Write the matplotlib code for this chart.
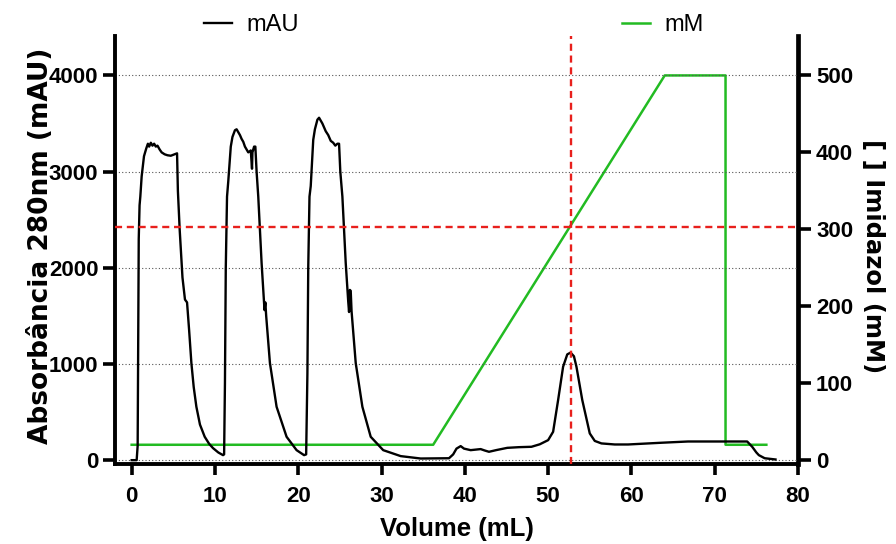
import matplotlib
matplotlib.use("Agg")
import matplotlib.pyplot as plt
from matplotlib.lines import Line2D

plt.rcParams["font.family"] = ["Liberation Sans", "DejaVu Sans"]

# ── absorbance trace (mL, mAU) ──
volume = [0.0, 0.6, 0.72, 0.78, 0.85, 0.95, 1.04, 1.2, 1.48, 1.75, 1.95, 2.1, 2.3, 2.5, 2.7,
          2.9, 3.1, 3.36, 3.6, 3.96, 4.3, 4.7, 5.0, 5.3, 5.45, 5.55, 5.77, 6.1, 6.4, 6.65,
          6.9, 7.17, 7.45, 7.77, 8.2, 8.77, 9.3, 9.77, 10.4, 10.97, 11.1,
          11.2, 11.3, 11.45, 11.6, 11.9, 12.1, 12.4, 12.6, 12.8, 13.0, 13.2, 13.4, 13.6,
          13.8, 14.0, 14.3, 14.45, 14.5, 14.7, 14.85, 15.0, 15.2, 15.6, 15.95, 16.05,
          16.15, 16.6, 17.4, 18.6, 19.8, 20.7, 20.95,
          21.1, 21.2, 21.35, 21.5, 21.8, 22.0, 22.3, 22.5, 22.7, 22.9, 23.1, 23.3, 23.6,
          23.9, 24.2, 24.45, 24.7, 24.9, 25.05, 25.3, 25.7, 26.0, 26.1, 26.2, 26.3, 26.4,
          26.9, 27.7, 28.7, 30.2, 32.3, 34.7, 38.1,
          38.6, 39.0, 39.5, 39.9, 40.7, 41.3, 41.9, 42.4, 42.9, 43.8, 45.1, 46.5, 48.0,
          49.0, 50.0, 50.6, 51.2, 51.8, 52.3, 52.7, 53.1, 53.4, 54.1, 55.0, 55.6, 56.4,
          58.0, 59.6, 61.5, 63.6, 66.8, 70.0, 73.9, 74.5, 75.0, 75.3, 76.0, 77.3]
mau = [0, 0, 150, 1200, 2300, 2650, 2740, 2950, 3160, 3240, 3290, 3260, 3300, 3270, 3290,
       3260, 3270, 3230, 3200, 3180, 3170, 3165, 3175, 3185, 3190, 2800, 2390, 1900, 1670, 1640,
       1350, 1010, 760, 555, 370, 243, 170, 125, 80, 52, 60,
       800, 2000, 2740, 2900, 3260, 3360, 3430, 3440, 3410, 3380, 3340, 3310, 3260,
       3230, 3200, 3220, 3030, 3200, 3260, 3260, 3000, 2740, 2050, 1560, 1640,
       1500, 1010, 555, 243, 104, 52, 60,
       900, 2000, 2740, 2850, 3330, 3440, 3540, 3560, 3530, 3500, 3460, 3420, 3380,
       3320, 3300, 3270, 3290, 3290, 3000, 2740, 2050, 1650, 1540, 1770, 1760, 1550,
       1010, 555, 243, 104, 42, 17, 20,
       60, 120, 146, 120, 104, 110, 115, 100, 87, 105, 128, 135, 139,
       165, 208, 295, 625, 972, 1100, 1118, 1080, 972, 625, 278, 200, 174,
       163, 163, 172, 181, 194, 194, 194, 139, 80, 52, 20, 7]

# ── imidazole gradient (mL, mM) ──
grad_volume = [0, 36.2, 64.0, 71.3, 71.3, 76.2]
grad_mm = [20, 20, 500, 500, 20, 20]

# red marker lines
peak_volume = 52.7
peak_mau = 2425

fig = plt.figure(figsize=(8.96, 5.44), dpi=100)
ax = fig.add_axes([115 / 896, 1 - 464 / 544, (798 - 115) / 896, (464 - 36) / 544])
ax2 = ax.twinx()
ax.set_zorder(ax2.get_zorder() + 1)
ax.patch.set_visible(False)

ax.plot(volume, mau, color="black", lw=1.7, zorder=3)
ax2.plot(grad_volume, grad_mm, color="#22bb22", lw=1.8)
ax.axvline(peak_volume, color="#e8201c", lw=1.7, ls=(0, (3, 2)), zorder=4)
ax.axhline(peak_mau, color="#e8201c", lw=1.7, ls=(0, (3, 2)), zorder=4)

ax.set_xlim(-2, 80)
ax.set_ylim(-40, 4410)
ax2.set_ylim(-5, 4450 / 8 - 5)
ax.set_xticks(range(0, 81, 10))
ax.set_yticks(range(0, 4001, 1000))
ax2.set_yticks(range(0, 501, 100))

ax.yaxis.grid(True, ls=(0, (1, 2)), color="#555555", lw=0.8)

for s in ["top", "right"]:
    ax.spines[s].set_visible(False)
for s in ["top", "left", "bottom"]:
    ax2.spines[s].set_visible(False)
ax.spines["left"].set_linewidth(2.8)
ax.spines["bottom"].set_linewidth(2.8)
ax2.spines["right"].set_linewidth(3.4)

ax.tick_params(axis="y", width=2.6, length=9, pad=3, labelsize=16)
ax.tick_params(axis="x", width=2.6, length=8, pad=8, labelsize=16)
ax2.tick_params(axis="y", width=2.6, length=9, pad=4, labelsize=16)
for lab in ax.get_xticklabels() + ax.get_yticklabels() + ax2.get_yticklabels():
    lab.set_fontweight("bold")

ax.set_xlabel("Volume (mL)", fontsize=18.5, fontweight="bold", labelpad=7)
ax.set_ylabel("Absorbância 280nm (mAU)", fontsize=19, fontweight="bold",
              family="DejaVu Sans")
ax.yaxis.set_label_coords(-0.09, 0.509)
ax2.set_ylabel("[ ] Imidazol (mM)", fontsize=17.5, fontweight="bold",
               family="DejaVu Sans", rotation=270, va="bottom")
ax2.yaxis.set_label_coords(1.092, 0.486)

h1 = [Line2D([], [], color="black", lw=1.7)]
h2 = [Line2D([], [], color="#22bb22", lw=1.8)]
fig.legend(h1, ["mAU"], loc="center left", bbox_to_anchor=(204 / 896, 1 - 25 / 544),
           frameon=False, fontsize=17, handlelength=1.2, handletextpad=0.6,
           borderpad=0, borderaxespad=0)
fig.legend(h2, ["mM"], loc="center left", bbox_to_anchor=(622 / 896, 1 - 25 / 544),
           frameon=False, fontsize=17, handlelength=1.2, handletextpad=0.6,
           borderpad=0, borderaxespad=0)

fig.savefig("out.png", dpi=100)
